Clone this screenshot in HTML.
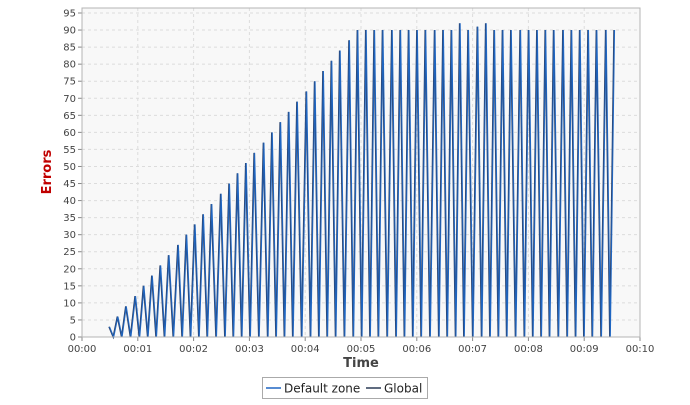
<!DOCTYPE html>
<html><head><meta charset="utf-8"><style>
body{margin:0;background:#fff;width:690px;height:400px;overflow:hidden}
svg{font-family:"DejaVu Sans","Liberation Sans",sans-serif}
</style></head><body>
<svg id="c" width="690" height="400">
<rect x="82" y="8" width="558" height="329" fill="#f8f8f8"/>
<g id="grid"></g><g id="ax"></g><g id="series"></g>
<rect x="82" y="8" width="558" height="329" fill="none" stroke="#b4b4b4"/>
<text x="51" y="172" transform="rotate(-90 51 172)" text-anchor="middle" fill="#c00000" font-weight="bold" font-size="13">Errors</text>
<text x="361" y="367" text-anchor="middle" fill="#444" font-weight="bold" font-size="13">Time</text>
<g>
<rect x="262.5" y="377.5" width="165" height="21" fill="#fff" stroke="#aaa"/>
<line x1="266" y1="388" x2="281" y2="388" stroke="#1f66c2" stroke-width="1.5"/>
<text x="284" y="392.5" font-size="12" fill="#222">Default zone</text>
<line x1="366" y1="388" x2="381" y2="388" stroke="#2b3a55" stroke-width="1.5"/>
<text x="384" y="392.5" font-size="12" fill="#222">Global</text>
</g>
</svg>
<script>
const peakTimes=[29,38,47,57,66,75,84,93,103,112,121,130,139,149,158,167,176,185,195,204,213,222,231,241,250,259,268,277,287,296,305,314,323,333,342,351,360,369,379,388,397,406,415,425,434,443,452,461,471,480,489,498,507,517,526,535,544,553,563,572];
const peakValues=[3,6,9,12,15,18,21,24,27,30,33,36,39,42,45,48,51,54,57,60,63,66,69,72,75,78,81,84,87,90,90,90,90,90,90,90,90,90,90,90,90,92,90,91,92,90,90,90,90,90,90,90,90,90,90,90,90,90,90,90];
const xTickLabels=["00:00","00:01","00:02","00:03","00:04","00:05","00:06","00:07","00:08","00:09","00:10"];
const yTicks=[0,5,10,15,20,25,30,35,40,45,50,55,60,65,70,75,80,85,90,95];
const NS="http://www.w3.org/2000/svg";
function X(s){return 82+s/600*558;}
function Y(v){return 337-v*324/95;}
function mk(t,a,p){const e=document.createElementNS(NS,t);for(const k in a)e.setAttribute(k,a[k]);p.appendChild(e);return e;}
const grid=document.getElementById('grid'),ax=document.getElementById('ax'),ser=document.getElementById('series');
yTicks.forEach(v=>{
 if(v>0){const g=mk('line',{x1:82,x2:640,y1:Y(v),y2:Y(v),stroke:'#dcdcdc','stroke-dasharray':'3,3'},grid);
 
 }
 mk('line',{x1:78,x2:82,y1:Y(v),y2:Y(v),stroke:'#888'},ax);
 const t=mk('text',{x:76,y:Y(v)+3.5,'text-anchor':'end','font-size':'10',fill:'#444'},ax);t.textContent=v;
 
 
});
xTickLabels.forEach((l,i)=>{
 const x=X(i*60);
 if(i>0&&i<10){const g=mk('line',{x1:x,x2:x,y1:8,y2:337,stroke:'#dcdcdc','stroke-dasharray':'3,3'},grid);
 
 }
 mk('line',{x1:x,x2:x,y1:337,y2:341,stroke:'#888'},ax);
 const t=mk('text',{x:x,y:352,'text-anchor':'middle','font-size':'10',fill:'#444'},ax);t.textContent=l;
 
 
});
let pts=[];
peakTimes.forEach((t,i)=>{
 if(i>0){pts.push([(peakTimes[i-1]+t)/2,0]);}
 pts.push([t,peakValues[i]]);
});
const d=pts.map((p,i)=>(i?'L':'M')+X(p[0]).toFixed(2)+','+Y(p[1]).toFixed(2)).join('');
const g=mk('path',{d:d,fill:'none',stroke:'#2b4470','stroke-width':'1.4'},ser);


const b=mk('path',{d:d,fill:'none',stroke:'#1f66c2','stroke-width':'1',transform:'translate(0.6,0)'},ser);


</script>
</body></html>
